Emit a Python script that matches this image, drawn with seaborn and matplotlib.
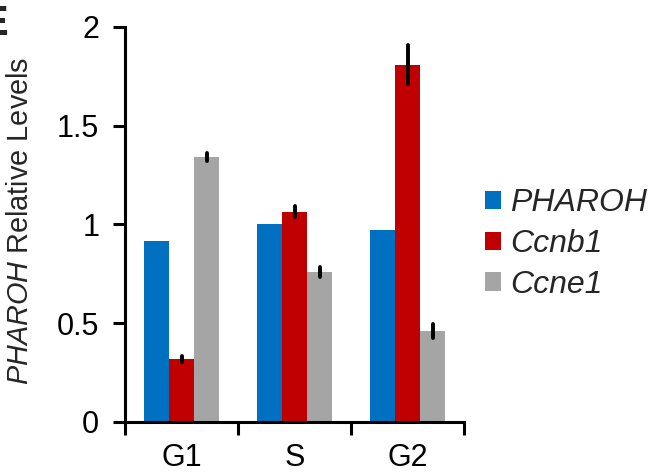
import numpy as np
import pandas as pd
import matplotlib
matplotlib.use("Agg")
import matplotlib.pyplot as plt
import seaborn as sns

# Relative expression by cell-cycle phase
phases = ["G1", "S", "G2"]
genes = ["PHAROH", "Ccnb1", "Ccne1"]
pharoh_vals = [0.917, 1.00, 0.970]
ccnb1_vals = [0.318, 1.064, 1.809]
ccne1_vals = [1.342, 0.758, 0.459]
pharoh_err = [0.0, 0.0, 0.0]
ccnb1_err = [0.013, 0.029, 0.098]
ccne1_err = [0.020, 0.025, 0.035]
colors = ["#0070C0", "#C00000", "#A5A5A5"]
ytick_vals = [0, 0.5, 1, 1.5, 2]
ytick_labels = ["0", "0.5", "1", "1.5", "2"]

values = [pharoh_vals, ccnb1_vals, ccne1_vals]
errors = [pharoh_err, ccnb1_err, ccne1_err]
df = pd.DataFrame({
    "phase": [p for _ in genes for p in phases],
    "gene": [g for g in genes for _ in phases],
    "level": [v for vals in values for v in vals],
})

sns.set_theme(style="white")
plt.rcParams["font.family"] = ["Liberation Sans", "DejaVu Sans"]
plt.rcParams["mathtext.fontset"] = "custom"
plt.rcParams["mathtext.it"] = "Liberation Sans:italic"
plt.rcParams["mathtext.rm"] = "Liberation Sans"

fig = plt.figure(figsize=(6.53, 4.76), dpi=100)
ax = fig.add_axes([125 / 653, 1 - 421.7 / 476, (464 - 125) / 653, (421.7 - 27) / 476])

sns.barplot(data=df, x="phase", y="level", hue="gene", order=phases,
            hue_order=genes, palette=colors, errorbar=None, width=0.664,
            gap=0, linewidth=0, saturation=1, ax=ax)

# error bars centred on each bar top
for cont, errs in zip(ax.containers, errors):
    for bar, e in zip(cont, errs):
        if e <= 0:
            continue
        cx = bar.get_x() + bar.get_width() / 2
        top = bar.get_height()
        ax.plot([cx, cx], [top - e, top + e], color="black", lw=2.8,
                solid_capstyle="round", zorder=5)

ax.set_xlim(-0.5, 2.5)
ax.set_ylim(0, 2)
ax.set_yticks(ytick_vals)
ax.set_yticklabels(ytick_labels)
ax.set_xticks(range(len(phases)))
ax.set_xticklabels(phases)
ax.set_xticks(np.arange(-0.5, len(phases), 1.0), minor=True)

for side in ["top", "right"]:
    ax.spines[side].set_visible(False)
for side in ["left", "bottom"]:
    ax.spines[side].set_linewidth(2.2)
    ax.spines[side].set_color("black")

ax.tick_params(axis="y", which="major", direction="out", length=9, width=2.2,
               labelsize=22, pad=9.5, left=True, colors="black")
ax.tick_params(axis="x", which="major", length=0, labelsize=22, pad=15,
               colors="black")
ax.tick_params(axis="x", which="minor", direction="out", length=9, width=2.2,
               bottom=True, colors="black")

ax.set_xlabel("")
ax.set_ylabel(r"$\mathit{PHAROH}$ Relative Levels", fontsize=20.8)
ax.yaxis.set_label_coords(-0.268, 0.51)

handles, labels = ax.get_legend_handles_labels()
ax.legend(handles, labels, loc="center left",
          bbox_to_anchor=(485 / 653, 1 - 244 / 476), bbox_transform=fig.transFigure,
          frameon=False, prop={"style": "italic", "size": 23},
          handlelength=0.5, handleheight=0.5, handletextpad=0.28,
          labelspacing=0.34, borderpad=0, borderaxespad=0)

# panel letter
fig.text(8 / 653, 1 - 35 / 476, "E", fontsize=30, fontweight="bold",
         ha="right", va="baseline")

fig.savefig("out.png", dpi=100)
